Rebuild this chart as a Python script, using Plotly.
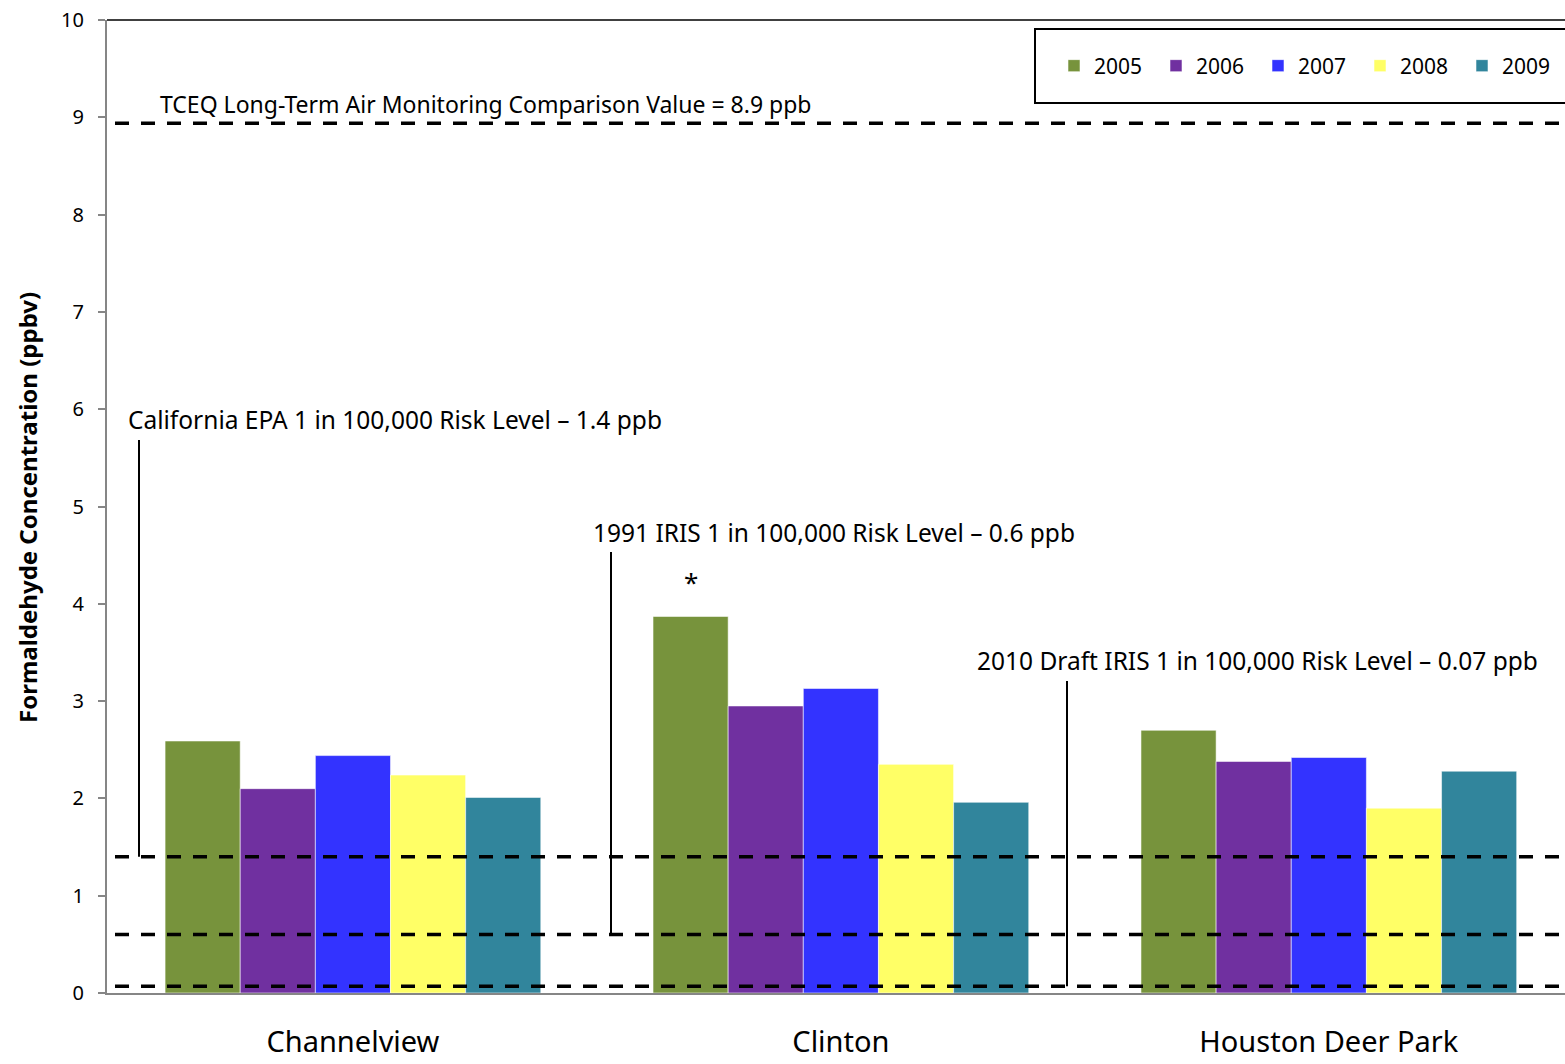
import plotly.graph_objects as go

sites = ["Channelview", "Clinton", "Houston Deer Park"]
years = ["2005", "2006", "2007", "2008", "2009"]
values = {
    "2005": [2.59, 3.87, 2.70],
    "2006": [2.10, 2.95, 2.38],
    "2007": [2.44, 3.13, 2.42],
    "2008": [2.24, 2.35, 1.90],
    "2009": [2.01, 1.96, 2.28],
}
colors = {
    "2005": "#77933C",
    "2006": "#7030A0",
    "2007": "#3333FF",
    "2008": "#FFFF66",
    "2009": "#31859C",
}
ref_values = [8.94, 1.4, 0.6, 0.07]
ref_labels = [
    "TCEQ Long-Term Air Monitoring Comparison Value = 8.9 ppb",
    "California EPA 1 in 100,000 Risk Level \u2013 1.4 ppb",
    "1991 IRIS 1 in 100,000 Risk Level \u2013 0.6 ppb",
    "2010 Draft IRIS 1 in 100,000 Risk Level \u2013 0.07 ppb",
]

FONT = "Noto Sans"
W, H = 1565, 1064
L, R, T, B = 107, 0, 20, 71
PW = W - L - R
PH = H - T - B


def px2paper_x(px):
    return (px - L) / PW


def px2paper_y(py):
    return (H - B - py) / PH


fig = go.Figure()
for yr in years:
    fig.add_trace(go.Bar(
        x=sites, y=values[yr], name=yr,
        marker=dict(color=colors[yr], line=dict(color="rgba(255,255,255,0.55)", width=1)),
    ))

shapes = []
for v in ref_values:
    shapes.append(dict(type="line", xref="paper", yref="y", x0=px2paper_x(115), x1=1.02,
                       y0=v, y1=v, line=dict(color="black", width=3.5, dash="14px,12px"), layer="above"))
leaders = [(139, 440, 1.4), (611, 552, 0.6), (1067, 681, 0.07)]
for xp, ytop, v in leaders:
    shapes.append(dict(type="line", xref="paper", yref="y", x0=px2paper_x(xp), x1=px2paper_x(xp),
                       y0=v, y1=(H - B - ytop) / PH * 10, line=dict(color="black", width=2)))
shapes.append(dict(type="line", xref="paper", yref="paper", x0=0, x1=1.02, y0=1, y1=1,
                   line=dict(color="black", width=1.5)))
shapes.append(dict(type="rect", xref="paper", yref="paper", x0=px2paper_x(1035), x1=1.05,
                   y0=px2paper_y(103), y1=px2paper_y(29), line=dict(color="black", width=2),
                   fillcolor="rgba(0,0,0,0)"))

annotations = []
label_pos = [(158, 104, 23), (126, 420, 24.5), (591, 532, 24.5), (975, 660, 24.5)]
for txt, (xp, yp, fs) in zip(ref_labels, label_pos):
    annotations.append(dict(text=txt, xref="paper", yref="paper", x=px2paper_x(xp), y=px2paper_y(yp),
                            xanchor="left", yanchor="middle", showarrow=False,
                            font=dict(family=FONT, size=fs, color="black")))
annotations.append(dict(text="*", xref="x", yref="y", x="Clinton", xshift=-150, y=4.22,
                        showarrow=False, font=dict(family=FONT, size=26, color="black"),
                        yanchor="middle"))
annotations.append(dict(text="<b>Formaldehyde Concentration (ppbv)</b>", textangle=-90,
                        xref="paper", yref="paper", x=px2paper_x(27), y=px2paper_y(508),
                        xanchor="center", yanchor="middle", showarrow=False,
                        font=dict(family=FONT, size=24, color="black")))

fig.update_layout(
    width=W, height=H,
    margin=dict(l=L, r=R, t=T, b=B, pad=0, autoexpand=False),
    paper_bgcolor="white", plot_bgcolor="white",
    barmode="group", bargap=0.23, bargroupgap=0,
    font=dict(family=FONT, color="black"),
    shapes=shapes, annotations=annotations,
    showlegend=True,
    legend=dict(orientation="h", x=px2paper_x(1054), y=px2paper_y(66), xanchor="left", yanchor="middle",
                bgcolor="rgba(0,0,0,0)", font=dict(family=FONT, size=21, color="black"),
                entrywidth=57, itemwidth=30),
    xaxis=dict(range=[-0.504, 2.484], showgrid=False, showline=True, linecolor="#868686", linewidth=2,
               ticks="", ticklabelstandoff=22,
               tickfont=dict(family=FONT, size=29, color="black"), fixedrange=True),
    yaxis=dict(range=[0, 10], dtick=1, showgrid=False, showline=True, linecolor="#868686", linewidth=2,
               ticks="outside", ticklen=7, tickcolor="#868686", tickwidth=1.5, ticklabelstandoff=10,
               tickfont=dict(family=FONT, size=20, color="black")),
)

fig.write_html("out.html")
